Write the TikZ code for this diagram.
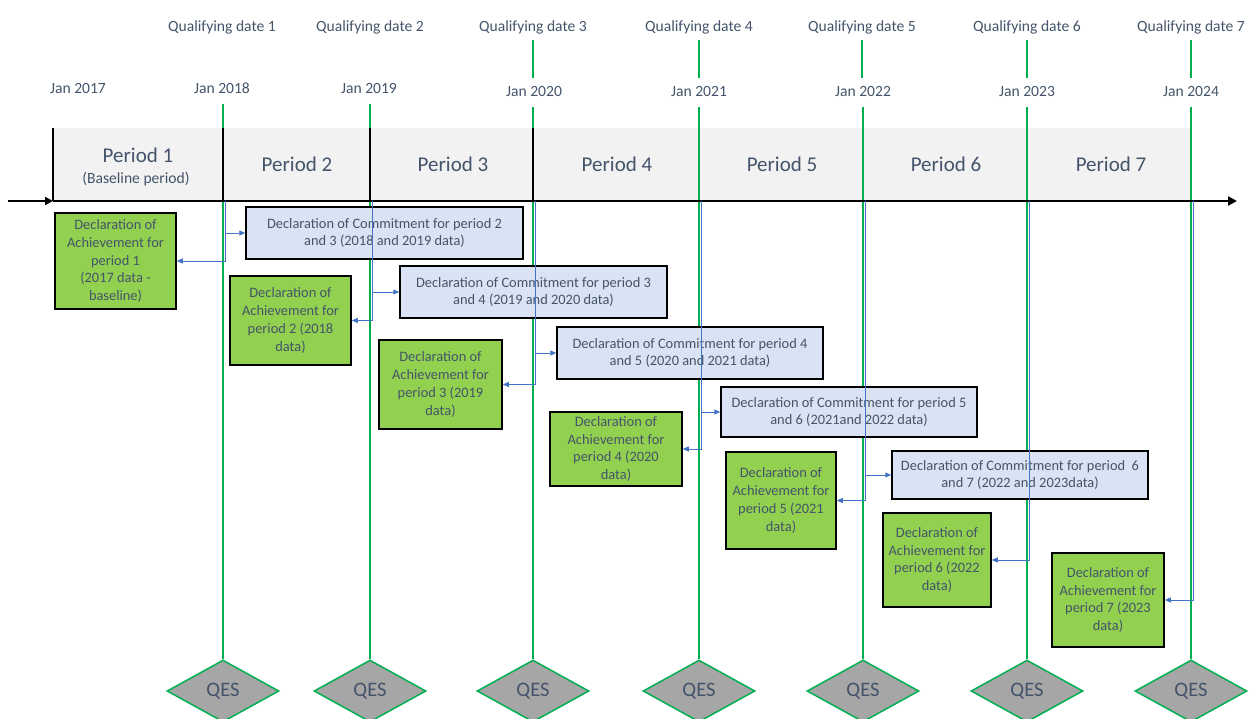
\documentclass[tikz,border=0pt]{standalone}
\usepackage{fontspec}
\setmainfont{Carlito}
\usetikzlibrary{calc,
shapes.geometric,
arrows.meta,
positioning}
\definecolor{slate}{HTML}{44546A}
\definecolor{qgreen}{HTML}{00B050}
\definecolor{achgreen}{HTML}{92D050}
\definecolor{comblue}{HTML}{DAE3F3}
\definecolor{linkblue}{HTML}{4472C4}
\definecolor{bandgrey}{HTML}{F2F2F2}
\definecolor{qesgrey}{HTML}{A6A6A6}

\begin{document}
\begin{tikzpicture} [x=1pt, y=-1pt,
    every node/.style={text=slate},
    date node/.style={font={\fontsize{15.6}{18}\selectfont},
        inner sep=0pt, text height=11pt, text depth=3pt},
    period node/.style={font={\fontsize{21}{24}\selectfont}, inner sep=0pt},
    commit node/.style={rectangle, draw = black, line width=1.5pt,
        fill = comblue, align=center, inner sep=1pt,
        font={\fontsize{14.4}{17.7}\selectfont}},
    achieve node/.style={rectangle, draw = black, line width=1.5pt,
        fill = achgreen, align=center, inner sep=1pt,
        font={\fontsize{14.4}{17.7}\selectfont}},
    qes node/.style={diamond, draw = qgreen, line width=1.5pt,
        fill = qesgrey, inner sep=0pt,
        minimum width = 112pt, minimum height = 62pt,
        font={\fontsize{20.6}{24}\selectfont}},
    date line/.style={qgreen, line width=2.5pt},
    divider/.style={black, line width=1.5pt},
    link/.style={linkblue, line width=0.8pt,
        -{Triangle[length=6pt, width=5pt]}}
  ]

  \useasboundingbox (0, 0) rectangle (1253, 718);

  % period band
  \fill [bandgrey] (53, 128) rectangle (1191, 200);

  % qualifying dates and Jan labels
  \node [date node] (q1) at (222, 27) {Qualifying date 1};
  \node [date node] (q2) at (370, 27) {Qualifying date 2};
  \node [date node] (q3) at (533, 27) {Qualifying date 3};
  \node [date node] (q4) at (699, 27) {Qualifying date 4};
  \node [date node] (q5) at (862, 27) {Qualifying date 5};
  \node [date node] (q6) at (1027, 27) {Qualifying date 6};
  \node [date node] (q7) at (1191, 27) {Qualifying date 7};

  \node [date node] (j0) at (78, 89)   {Jan 2017};
  \node [date node] (j1) at (222, 89)  {Jan 2018};
  \node [date node] (j2) at (369, 89)  {Jan 2019};
  \node [date node] (j3) at (534, 92)  {Jan 2020};
  \node [date node] (j4) at (699, 92)  {Jan 2021};
  \node [date node] (j5) at (863, 92)  {Jan 2022};
  \node [date node] (j6) at (1027, 92) {Jan 2023};
  \node [date node] (j7) at (1191, 92) {Jan 2024};

  % QES diamonds
  \node [qes node] (qes1) at (223, 691)  {QES};
  \node [qes node] (qes2) at (370, 691)  {QES};
  \node [qes node] (qes3) at (533, 691)  {QES};
  \node [qes node] (qes4) at (699, 691)  {QES};
  \node [qes node] (qes5) at (863, 691)  {QES};
  \node [qes node] (qes6) at (1027, 691) {QES};
  \node [qes node] (qes7) at (1191, 691) {QES};

  % green date lines
  \foreach \k in {3,...,7}
    \draw [date line, shorten <= 6pt, shorten >= 7pt] (q\k.south) -- (j\k.north -| q\k.south);
  \foreach \k in {1,...,7}
    \draw [date line, shorten <= 8pt] (j\k.south -| qes\k.north) -- (qes\k.north);

  % period dividers and axis
  \draw [divider] (53, 128) -- (53, 201);
  \draw [divider] (223, 128) -- (223, 201);
  \draw [divider] (370, 128) -- (370, 201);
  \draw [divider] (533, 128) -- (533, 201);

  \coordinate (axin)  at (8, 201);
  \coordinate (ax0)   at (53, 201);
  \coordinate (ax7)   at (1191, 201);
  \coordinate (axout) at (1237, 201);
  \draw [line width=1.5pt] (ax0) -- (ax7);
  \draw [line width=2pt, -{Triangle[length=8pt, width=8pt]}] (axin) -- (ax0);
  \draw [line width=2.5pt, -{Triangle[length=9pt, width=9pt]}] (ax7) -- (axout);

  % period labels
  \node [period node] (p1) at (138, 155) {Period 1};
  \node [date node, text height=, text depth=] (p1sub) at (136, 179) {(Baseline period)};
  \node [period node] (p2) at (297, 164)  {Period 2};
  \node [period node] (p3) at (453, 164)  {Period 3};
  \node [period node] (p4) at (617, 164)  {Period 4};
  \node [period node] (p5) at (782, 164)  {Period 5};
  \node [period node] (p6) at (946, 164)  {Period 6};
  \node [period node] (p7) at (1111, 164) {Period 7};

  % commitment declarations
  \node [commit node, minimum width = 277pt, minimum height = 52pt]
    (c1) at (384.5, 233) {Declaration of Commitment for period 2\\and 3 (2018 and 2019 data)};
  \node [commit node, minimum width = 267pt, minimum height = 52pt]
    (c2) at (533.5, 292) {Declaration of Commitment for period 3\\and 4 (2019 and 2020 data)};
  \node [commit node, minimum width = 266pt, minimum height = 52pt]
    (c3) at (690, 353) {Declaration of Commitment for period 4\\and 5 (2020 and 2021 data)};
  \node [commit node, minimum width = 256pt, minimum height = 50pt]
    (c4) at (849, 412) {Declaration of Commitment for period 5\\and 6 (2021and 2022 data)};
  \node [commit node, minimum width = 256pt, minimum height = 48pt]
    (c5) at (1020, 475) {Declaration of Commitment for period \ 6\\and 7 (2022 and 2023data)};

  % achievement declarations
  \node [achieve node, minimum width = 121pt, minimum height = 96pt]
    (a1) at (115.5, 261) {Declaration of\\Achievement for\\period 1\\(2017 data -\\baseline)};
  \node [achieve node, minimum width = 121pt, minimum height = 89pt]
    (a2) at (290.5, 320.5) {Declaration of\\Achievement for\\period 2 (2018\\data)};
  \node [achieve node, minimum width = 123pt, minimum height = 89pt]
    (a3) at (440.5, 384.5) {Declaration of\\Achievement for\\period 3 (2019\\data)};
  \node [achieve node, minimum width = 132pt, minimum height = 74pt]
    (a4) at (616, 449) {Declaration of\\Achievement for\\period 4 (2020\\data)};
  \node [achieve node, minimum width = 110pt, minimum height = 97pt]
    (a5) at (781, 500.5) {Declaration of\\Achievement for\\period 5 (2021\\data)};
  \node [achieve node, minimum width = 108pt, minimum height = 94pt]
    (a6) at (937, 560) {Declaration of\\Achievement for\\period 6 (2022\\data)};
  \node [achieve node, minimum width = 112pt, minimum height = 94pt]
    (a7) at (1108, 600) {Declaration of\\Achievement for\\period 7 (2023\\data)};

  % links from the dates
  \coordinate (t1) at (225, 201);
  \coordinate (t2) at (372, 201);
  \coordinate (t3) at (535, 201);
  \coordinate (t4) at (701, 201);
  \coordinate (t5) at (865, 201);
  \coordinate (t6) at (1029, 201);
  \coordinate (t7) at (1193, 201);

  \draw [link] (t1) |- (c1.west);
  \draw [link] (t1) |- (a1.east);
  \draw [link] (t2) |- (c2.west);
  \draw [link] (t2) |- (a2.east);
  \draw [link] (t3) |- (c3.west);
  \draw [link] (t3) |- (a3.east);
  \draw [link] (t4) |- (c4.west);
  \draw [link] (t4) |- (a4.east);
  \draw [link] (t5) |- (c5.west);
  \draw [link] (t5) |- (a5.east);
  \draw [link] (t6) |- (a6.east);
  \draw [link] (t7) |- (a7.east);

\end{tikzpicture}
\end{document}
